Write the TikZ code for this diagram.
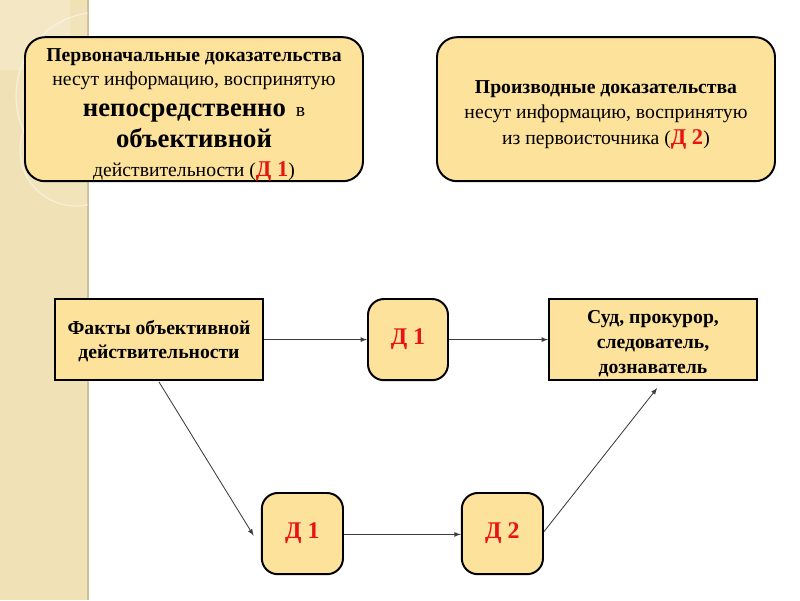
\documentclass[tikz,border=0pt]{standalone}
\usepackage{fontspec}
\setmainfont{Liberation Serif}
\usepackage{tikz}
\usetikzlibrary{arrows}
\definecolor{ev_fill}{RGB}{253, 226, 156}
\definecolor{ev_strip}{RGB}{240, 226, 182}
\definecolor{ev_line}{RGB}{60, 60, 60}
\definecolor{ev_red}{RGB}{230, 20, 20}
\tikzstyle{rbox}=[rectangle,rounded corners=0.5cm,fill=ev_fill,draw=black,
  line width=1.4pt,align=center,inner sep=2pt,font=\fontsize{14}{18}\selectfont]
\tikzstyle{sbox}=[rectangle,fill=ev_fill,draw=black,
  line width=1.4pt,align=center,inner sep=2pt,minimum width=5.2cm,minimum height=2.03cm]
\tikzstyle{dbox}=[rectangle,rounded corners=0.4cm,fill=ev_fill,draw=black,
  line width=1.4pt,minimum height=2.03cm,font=\fontsize{17}{20}\selectfont\bfseries,text=ev_red]
\tikzstyle{arr}=[->,>=latex,draw=ev_line,line width=0.6pt]
\newcommand{\dref}[1]{{\color{ev_red}\fontsize{16}{17}\selectfont\bfseries Д #1}}
\newcommand{\bigb}[1]{{\fontsize{19}{21}\selectfont\bfseries #1}}

\begin{document}
\begin{tikzpicture}
    \useasboundingbox (0,0) rectangle (20,15);
    % background strip
    \fill [ev_strip] (0,0) rectangle (2.2,15);
    \draw [ev_strip!85!black, line width=0.8pt] (2.2,0) -- (2.2,15);
    \begin{scope}
        \clip (0,0) rectangle (2.2,15);
        \fill [white, opacity=0.2] (0,15) rectangle (1.75,13.25);
        \draw [white, line width=0.9pt, opacity=0.45, fill=white, fill opacity=0.08] (2.5,12.6) circle (2.1);
        \draw [white, line width=0.9pt, opacity=0.45, fill=white, fill opacity=0.08] (1.9,11.25) circle (1.4);
    \end{scope}
            \node [style=rbox, inner ysep=0pt, minimum width=8.45cm, minimum height=3.6cm] (1) at (4.85, 12.27)
                {\rule{0pt}{17pt}\textbf{Первоначальные доказательства}\\[-0.5pt]
                 несут информацию, воспринятую\\[4pt]
                 \bigb{непосредственно}~ в\\[4pt]
                 \bigb{объективной}\\[2.5pt]
                 действительности (\dref{1})};
            \node [style=rbox, minimum width=8.45cm, minimum height=3.6cm] (2) at (15.15, 12.27)
                {\rule{0pt}{17pt}\textbf{Производные доказательства}\\
                 несут информацию, воспринятую\\
                 из первоисточника (\dref{2})};
            \node [style=sbox, font=\fontsize{14}{17}\selectfont\bfseries] (3) at (3.975, 6.51)
                {\rule{0pt}{12pt}Факты объективной\\действительности};
            \node [style=dbox, minimum width=2.0cm] (4) at (10.2, 6.51) {Д 1};
            \node [style=sbox, inner ysep=0pt, font=\fontsize{14}{18}\selectfont\bfseries] (5) at (16.325, 6.51)
                {\rule{0pt}{15pt}Суд, прокурор,\\следователь,\\дознаватель};
            \node [style=dbox, minimum width=2.03cm] (6) at (7.56, 1.66) {Д 1};
            \node [style=dbox, minimum width=2.03cm] (7) at (12.56, 1.66) {Д 2};
            \coordinate (8) at (16.43, 5.3);
            \draw [style=arr] (3) to (4);
            \draw [style=arr] (4) to (5);
            \draw [style=arr] (3.south) ++(0,-0.02) to ([xshift=-0.18cm, yshift=-0.05cm]6.west);
            \draw [style=arr] ([yshift=-0.02cm]6.east) to ([yshift=-0.02cm]7.west);
            \draw [style=arr] ([yshift=0.05cm]7.east) to (8);
    \end{tikzpicture}
\end{document}
